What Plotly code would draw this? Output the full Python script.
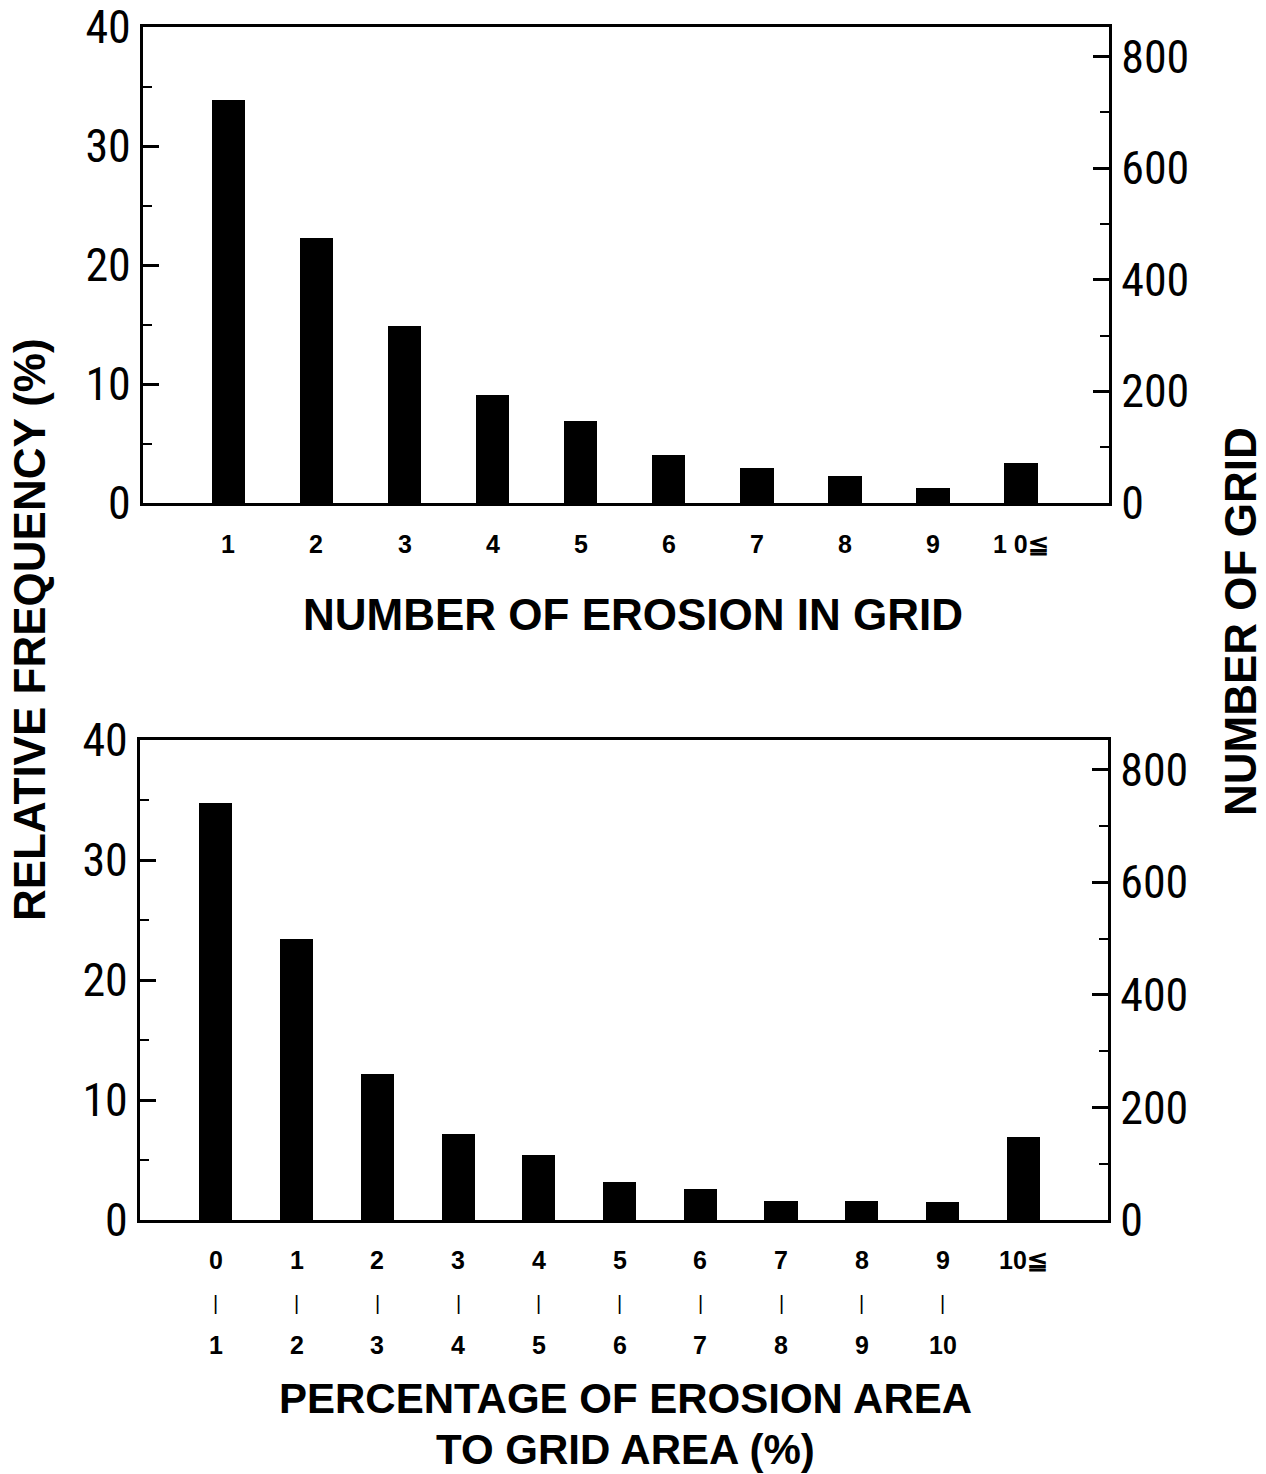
import plotly.graph_objects as go

# ---------------- data ----------------
top_categories = ["1", "2", "3", "4", "5", "6", "7", "8", "9", "1 0≦"]
top_freq = [33.9, 22.3, 14.9, 9.1, 6.9, 4.0, 2.9, 2.3, 1.3, 3.4]

bot_lower = ["0", "1", "2", "3", "4", "5", "6", "7", "8", "9", "10≦"]
bot_upper = ["1", "2", "3", "4", "5", "6", "7", "8", "9", "10", ""]
bot_freq = [34.75, 23.4, 12.2, 7.2, 5.4, 3.2, 2.6, 1.6, 1.6, 1.5, 6.9]

left_ticks = [0, 10, 20, 30, 40]
right_ticks = [0, 200, 400, 600, 800]
right_max = 853  # number of grids equivalent to 40 %

top_xlabel = "NUMBER OF EROSION IN GRID"
bot_xlabel_lines = ["PERCENTAGE OF EROSION AREA", "TO GRID AREA (%)"]
ylabel_left = "RELATIVE FREQUENCY (%)"
ylabel_right = "NUMBER OF GRID"

# ---------------- layout helpers ----------------
W, H = 1266, 1474


def px_x(x):
    return x / W


def px_y(y):
    return 1 - y / H


NUM_FONT = "Liberation Sans Narrow, Roboto Condensed, Arial Narrow, Liberation Sans, sans-serif"
LBL_FONT = "Liberation Sans, Arial, sans-serif"

fig = go.Figure()

top_x = list(range(1, len(top_freq) + 1))
bot_x = list(range(0, len(bot_freq)))

fig.add_trace(go.Bar(x=top_x, y=top_freq, xaxis="x", yaxis="y",
                     marker=dict(color="black", line=dict(width=0)),
                     width=0.38, showlegend=False))
fig.add_trace(go.Bar(x=bot_x, y=bot_freq, xaxis="x2", yaxis="y2",
                     marker=dict(color="black", line=dict(width=0)),
                     width=0.41, showlegend=False))
# empty traces to bind the right-hand axes
fig.add_trace(go.Scatter(x=[None], y=[None], xaxis="x", yaxis="y3",
                         showlegend=False, hoverinfo="skip"))
fig.add_trace(go.Scatter(x=[None], y=[None], xaxis="x2", yaxis="y4",
                         showlegend=False, hoverinfo="skip"))

axis_line = dict(showline=True, linecolor="black", linewidth=3,
                 showgrid=False, zeroline=False, automargin=False)

left_y = dict(range=[0, 40], tickvals=left_ticks, ticks="inside", ticklen=16,
              tickwidth=2.5, tickcolor="black",
              minor=dict(ticks="inside", ticklen=9, tickwidth=2, tickcolor="black",
                         dtick=5, showgrid=False),
              tickfont=dict(family=NUM_FONT, size=46, color="black"),
              ticklabelstandoff=0, **axis_line)
right_y = dict(range=[0, right_max], tickvals=right_ticks, ticks="inside", ticklen=16,
               tickwidth=2.5, tickcolor="black",
               minor=dict(ticks="inside", ticklen=9, tickwidth=2, tickcolor="black",
                          dtick=100, showgrid=False),
               tickfont=dict(family=NUM_FONT, size=46, color="black"),
               side="right", ticklabelstandoff=0, **axis_line)

fig.update_layout(
    width=W, height=H,
    margin=dict(l=0, r=0, t=0, b=0, autoexpand=False),
    paper_bgcolor="white", plot_bgcolor="white",
    bargap=0,
    xaxis=dict(domain=[px_x(143), px_x(1109)], range=[0.03, 11.0], anchor="y",
               showticklabels=False, ticks="", mirror=True, **axis_line),
    yaxis=dict(domain=[px_y(503), px_y(27)], anchor="x", **left_y),
    yaxis3=dict(overlaying="y", anchor="x", **right_y),
    xaxis2=dict(domain=[px_x(140), px_x(1108)], range=[-0.94, 11.05], anchor="y2",
                showticklabels=False, ticks="", mirror=True, **axis_line),
    yaxis2=dict(domain=[px_y(1220), px_y(740)], anchor="x2", **left_y),
    yaxis4=dict(overlaying="y2", anchor="x2", **right_y),
)

ann = []
tick_font = dict(family=LBL_FONT, size=25, color="black", weight="bold")
for xv, t in zip(top_x, top_categories):
    ann.append(dict(x=xv, y=px_y(544), xref="x", yref="paper", text=t,
                    showarrow=False, font=tick_font, xanchor="center", yanchor="middle"))
for xv, lo, hi in zip(bot_x, bot_lower, bot_upper):
    ann.append(dict(x=xv, y=px_y(1260), xref="x2", yref="paper", text=lo,
                    showarrow=False, font=tick_font, xanchor="center", yanchor="middle"))
    if hi:
        ann.append(dict(x=xv, y=px_y(1303), xref="x2", yref="paper", text="|",
                        showarrow=False, font=dict(family=LBL_FONT, size=20, color="black"),
                        xanchor="center", yanchor="middle"))
        ann.append(dict(x=xv, y=px_y(1345), xref="x2", yref="paper", text=hi,
                        showarrow=False, font=tick_font, xanchor="center", yanchor="middle"))

title_font = dict(family=LBL_FONT, size=44, color="black", weight="bold")
bot_title_font = dict(family=LBL_FONT, size=42, color="black", weight="bold")
ann.append(dict(x=px_x(633), y=px_y(614), xref="paper", yref="paper", text=top_xlabel,
                showarrow=False, font=title_font, xanchor="center", yanchor="middle"))
for line, yc in zip(bot_xlabel_lines, [1398, 1449]):
    ann.append(dict(x=px_x(625), y=px_y(yc), xref="paper", yref="paper", text=line,
                    showarrow=False, font=bot_title_font, xanchor="center",
                    yanchor="middle", borderpad=0))
ann.append(dict(x=px_x(30), y=px_y(630), xref="paper", yref="paper", text=ylabel_left,
                showarrow=False, font=title_font, textangle=-90,
                xanchor="center", yanchor="middle"))
ann.append(dict(x=px_x(1240), y=px_y(622), xref="paper", yref="paper", text=ylabel_right,
                showarrow=False, font=title_font, textangle=-90,
                xanchor="center", yanchor="middle"))

fig.update_layout(annotations=ann)

fig.write_html("out.html")
